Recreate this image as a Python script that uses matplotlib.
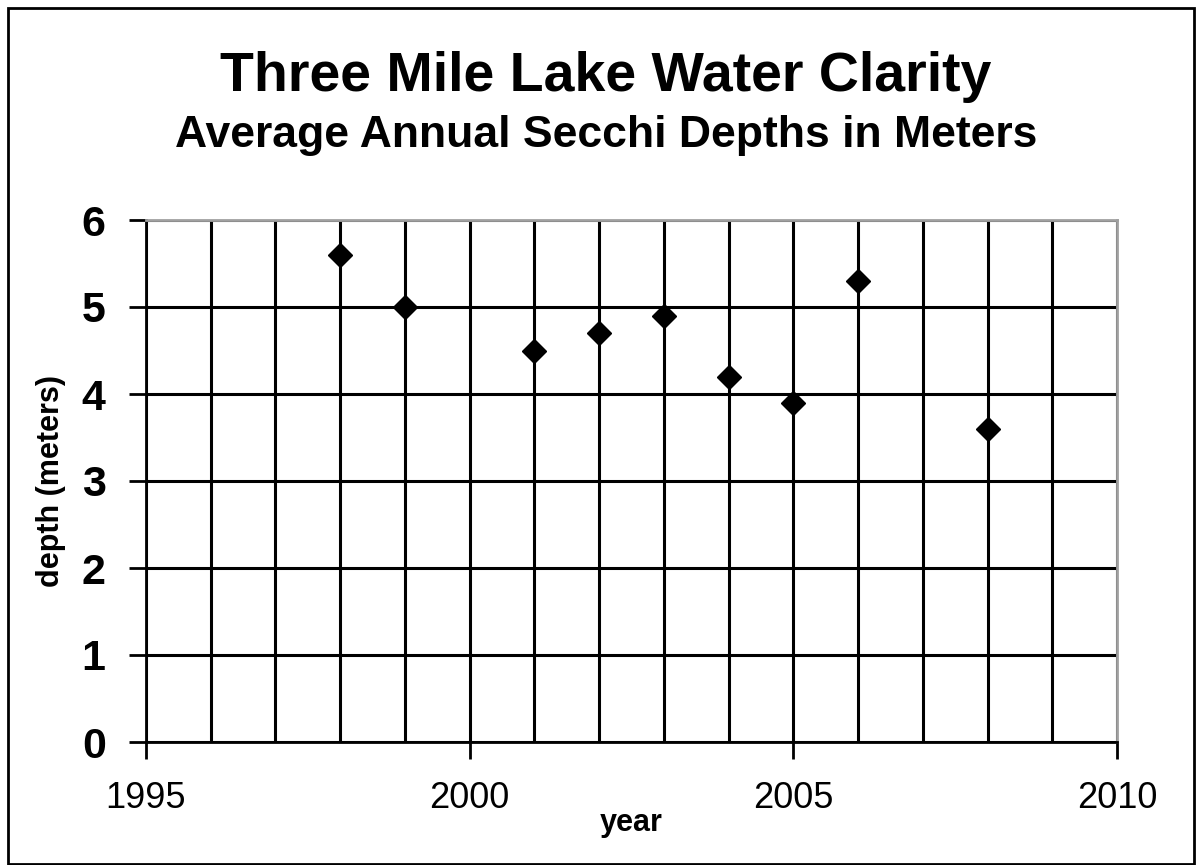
import matplotlib.pyplot as plt
from matplotlib.ticker import MultipleLocator
from matplotlib.patches import Rectangle

plt.rcParams['font.family'] = ['Liberation Sans', 'DejaVu Sans']

# secchi depth readings
years = [1998, 1999, 2001, 2002, 2003, 2004, 2005, 2006, 2008]
depths = [5.6, 5.0, 4.5, 4.7, 4.9, 4.2, 3.9, 5.3, 3.6]

W, H = 1196, 865
fig = plt.figure(figsize=(W / 100, H / 100), dpi=100)
ax = fig.add_axes([146 / W, 1 - 742 / H, 971 / W, 522 / H])

# outer frame of the chart
fig.patches.append(Rectangle((8 / W, 1 / H), 1186 / W, 856 / H, transform=fig.transFigure,
                             fill=False, edgecolor='black', linewidth=2))

ax.plot(years, depths, ls='none', marker='D', color='black', markersize=12, zorder=5)

ax.set_xlim(1995, 2010)
ax.set_ylim(0, 6)
ax.xaxis.set_major_locator(MultipleLocator(5))
ax.xaxis.set_minor_locator(MultipleLocator(1))
ax.yaxis.set_major_locator(MultipleLocator(1))

ax.grid(which='major', axis='y', color='black', lw=2.2)
ax.grid(which='both', axis='x', color='black', lw=2.2)
ax.tick_params(which='minor', length=0)
ax.tick_params(which='major', direction='out', length=12, width=2, color='black')
ax.tick_params(axis='x', labelsize=26, pad=16)
ax.tick_params(axis='y', labelsize=31, pad=17)
for t in ax.get_yticklabels():
    t.set_fontweight('bold')

for s in ['top', 'right']:
    ax.spines[s].set_color('#a0a0a0')
    ax.spines[s].set_linewidth(2)
for s in ['left', 'bottom']:
    ax.spines[s].set_color('black')
    ax.spines[s].set_linewidth(2)

ax.set_xlabel('year', fontsize=22, fontweight='bold', va='center')
ax.set_ylabel('depth (meters)', fontsize=22, fontweight='bold', va='center')
ax.xaxis.set_label_coords(0.5, (742 - 823) / 522)
ax.yaxis.set_label_coords((51 - 146) / 971, 0.5)

fig.text(606 / W, 1 - 91 / H, 'Three Mile Lake Water Clarity', ha='center', va='baseline',
         fontsize=40, fontweight='bold')
fig.text(606 / W, 1 - 147 / H, 'Average Annual Secchi Depths in Meters', ha='center',
         va='baseline', fontsize=32, fontweight='bold')

fig.savefig('out.png', dpi=100)
